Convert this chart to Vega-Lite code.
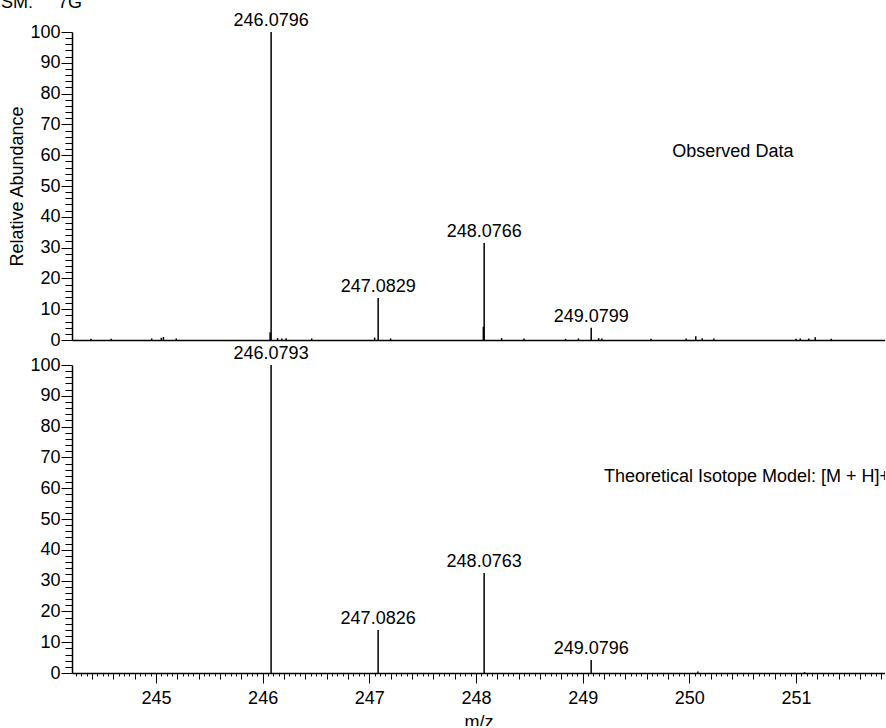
{
  "$schema": "https://vega.github.io/schema/vega-lite/v6.json",
  "padding": {"left": 0, "top": -6, "right": 0, "bottom": -5},
  "title": {"text": "SM:\u00a0\u00a0\u00a0\u00a0\u00a07G", "anchor": "start", "frame": "bounds", "fontSize": 18, "fontWeight": "normal", "font": "Liberation Sans", "color": "#000", "offset": 0, "dx": -8},
  "config": {
    "font": "Liberation Sans",
    "view": {"stroke": null},
    "axis": {"domainColor": "#000", "domainWidth": 1.5, "tickColor": "#000", "tickWidth": 1, "labelColor": "#000", "labelFontSize": 18, "labelFont": "Liberation Sans", "titleColor": "#000", "titleFont": "Liberation Sans", "titleFontSize": 18, "titleFontWeight": "normal", "grid": false, "labelOverlap": false, "labelFlush": false}
  },
  "datasets": {
    "peaks": [
      {"panel": "Observed", "mz": 246.0796, "abundance": 100, "label": "246.0796"},
      {"panel": "Observed", "mz": 246.070, "abundance": 2.5},
      {"panel": "Observed", "mz": 247.0829, "abundance": 13.6, "label": "247.0829"},
      {"panel": "Observed", "mz": 248.0766, "abundance": 31.5, "label": "248.0766"},
      {"panel": "Observed", "mz": 248.069, "abundance": 4.3},
      {"panel": "Observed", "mz": 249.0799, "abundance": 4.0, "label": "249.0799"},
      {"panel": "Observed", "mz": 244.39, "abundance": 0.4},
      {"panel": "Observed", "mz": 244.58, "abundance": 0.4},
      {"panel": "Observed", "mz": 244.96, "abundance": 0.5},
      {"panel": "Observed", "mz": 245.05, "abundance": 0.7},
      {"panel": "Observed", "mz": 245.07, "abundance": 1.0},
      {"panel": "Observed", "mz": 245.19, "abundance": 0.5},
      {"panel": "Observed", "mz": 246.14, "abundance": 0.6},
      {"panel": "Observed", "mz": 246.18, "abundance": 0.5},
      {"panel": "Observed", "mz": 246.22, "abundance": 0.6},
      {"panel": "Observed", "mz": 246.46, "abundance": 0.5},
      {"panel": "Observed", "mz": 247.05, "abundance": 0.8},
      {"panel": "Observed", "mz": 247.20, "abundance": 0.5},
      {"panel": "Observed", "mz": 248.24, "abundance": 0.6},
      {"panel": "Observed", "mz": 248.45, "abundance": 0.5},
      {"panel": "Observed", "mz": 248.84, "abundance": 0.4},
      {"panel": "Observed", "mz": 248.96, "abundance": 0.5},
      {"panel": "Observed", "mz": 249.15, "abundance": 0.6},
      {"panel": "Observed", "mz": 249.18, "abundance": 0.5},
      {"panel": "Observed", "mz": 249.64, "abundance": 0.4},
      {"panel": "Observed", "mz": 249.97, "abundance": 0.5},
      {"panel": "Observed", "mz": 250.06, "abundance": 1.2},
      {"panel": "Observed", "mz": 250.12, "abundance": 0.6},
      {"panel": "Observed", "mz": 250.23, "abundance": 0.5},
      {"panel": "Observed", "mz": 251.00, "abundance": 0.4},
      {"panel": "Observed", "mz": 251.04, "abundance": 0.5},
      {"panel": "Observed", "mz": 251.12, "abundance": 0.5},
      {"panel": "Observed", "mz": 251.18, "abundance": 0.9},
      {"panel": "Observed", "mz": 251.33, "abundance": 0.4},
      {"panel": "Theoretical", "mz": 246.0793, "abundance": 100, "label": "246.0793"},
      {"panel": "Theoretical", "mz": 247.0826, "abundance": 14.0, "label": "247.0826"},
      {"panel": "Theoretical", "mz": 248.0763, "abundance": 32.5, "label": "248.0763"},
      {"panel": "Theoretical", "mz": 249.0796, "abundance": 4.2, "label": "249.0796"},
      {"panel": "Theoretical", "mz": 250.08, "abundance": 0.5},
      {"panel": "Theoretical", "mz": 251.08, "abundance": 0.3}
    ],
    "notes": [
      {"panel": "Observed", "mz": 250.408, "abundance": 61, "note": "Observed Data"},
      {"panel": "Theoretical", "mz": 249.199, "abundance": 63.6, "note": "Theoretical Isotope Model: [M + H]+"}
    ]
  },
  "spacing": 25,
  "bounds": "flush",
  "vconcat": [
    {
      "width": 813,
      "height": 308,
      "layer": [
        {
          "data": {"name": "peaks"},
          "transform": [{"filter": "datum.panel === 'Observed'"}],
          "mark": {"type": "rule", "color": "#000", "strokeWidth": 1.5},
          "encoding": {
            "x": {"field": "mz", "type": "quantitative", "scale": {"domain": [244.213, 251.834], "nice": false, "zero": false}, "axis": {"title": null, "labels": false, "ticks": false, "domain": true}},
            "y": {"field": "abundance", "type": "quantitative", "scale": {"domain": [0, 100], "nice": false},
              "axis": {"title": "Relative Abundance", "titlePadding": 3, "labelPadding": 1, "tickCount": 1000,
                "values": [0,2,4,6,8,10,12,14,16,18,20,22,24,26,28,30,32,34,36,38,40,42,44,46,48,50,52,54,56,58,60,62,64,66,68,70,72,74,76,78,80,82,84,86,88,90,92,94,96,98,100],
                "tickSize": {"condition": {"test": "datum.value % 10 === 0", "value": 11}, "value": 7},
                "labelExpr": "datum.value % 10 === 0 ? format(datum.value, 'd') : ''"}},
            "y2": {"datum": 0}
          }
        },
        {
          "data": {"name": "peaks"},
          "transform": [{"filter": "datum.panel === 'Observed' && datum.label"}],
          "mark": {"type": "text", "baseline": "alphabetic", "align": "center", "dy": -6, "fontSize": 18, "color": "#000"},
          "encoding": {
            "x": {"field": "mz", "type": "quantitative"},
            "y": {"field": "abundance", "type": "quantitative"},
            "text": {"field": "label"}
          }
        },
        {
          "data": {"name": "notes"},
          "transform": [{"filter": "datum.panel === 'Observed'"}],
          "mark": {"type": "text", "baseline": "middle", "align": "center", "fontSize": 18, "color": "#000"},
          "encoding": {
            "x": {"field": "mz", "type": "quantitative"},
            "y": {"field": "abundance", "type": "quantitative"},
            "text": {"field": "note"}
          }
        }
      ]
    },
    {
      "width": 813,
      "height": 308,
      "layer": [
        {
          "data": {"name": "peaks"},
          "transform": [{"filter": "datum.panel === 'Theoretical'"}],
          "mark": {"type": "rule", "color": "#000", "strokeWidth": 1.5},
          "encoding": {
            "x": {"field": "mz", "type": "quantitative", "scale": {"domain": [244.213, 251.834], "nice": false, "zero": false},
              "axis": {"title": "m/z", "titlePadding": 6, "labelPadding": 6, "tickCount": 1000,
                "values": [244.25,244.3,244.35,244.4,244.45,244.5,244.55,244.6,244.65,244.7,244.75,244.8,244.85,244.9,244.95,
                  245,245.05,245.1,245.15,245.2,245.25,245.3,245.35,245.4,245.45,245.5,245.55,245.6,245.65,245.7,245.75,245.8,245.85,245.9,245.95,
                  246,246.05,246.1,246.15,246.2,246.25,246.3,246.35,246.4,246.45,246.5,246.55,246.6,246.65,246.7,246.75,246.8,246.85,246.9,246.95,
                  247,247.05,247.1,247.15,247.2,247.25,247.3,247.35,247.4,247.45,247.5,247.55,247.6,247.65,247.7,247.75,247.8,247.85,247.9,247.95,
                  248,248.05,248.1,248.15,248.2,248.25,248.3,248.35,248.4,248.45,248.5,248.55,248.6,248.65,248.7,248.75,248.8,248.85,248.9,248.95,
                  249,249.05,249.1,249.15,249.2,249.25,249.3,249.35,249.4,249.45,249.5,249.55,249.6,249.65,249.7,249.75,249.8,249.85,249.9,249.95,
                  250,250.05,250.1,250.15,250.2,250.25,250.3,250.35,250.4,250.45,250.5,250.55,250.6,250.65,250.7,250.75,250.8,250.85,250.9,250.95,
                  251,251.05,251.1,251.15,251.2,251.25,251.3,251.35,251.4,251.45,251.5,251.55,251.6,251.65,251.7,251.75,251.8],
                "tickSize": {"condition": [{"test": "abs(datum.value - round(datum.value)) < 1e-6", "value": 10}, {"test": "abs(datum.value * 5 - round(datum.value * 5)) < 1e-6", "value": 6}], "value": 3},
                "labelExpr": "abs(datum.value - round(datum.value)) < 1e-6 ? format(datum.value, 'd') : ''"}},
            "y": {"field": "abundance", "type": "quantitative", "scale": {"domain": [0, 100], "nice": false},
              "axis": {"title": null, "labelPadding": 1, "tickCount": 1000,
                "values": [0,2,4,6,8,10,12,14,16,18,20,22,24,26,28,30,32,34,36,38,40,42,44,46,48,50,52,54,56,58,60,62,64,66,68,70,72,74,76,78,80,82,84,86,88,90,92,94,96,98,100],
                "tickSize": {"condition": {"test": "datum.value % 10 === 0", "value": 11}, "value": 7},
                "labelExpr": "datum.value % 10 === 0 ? format(datum.value, 'd') : ''"}},
            "y2": {"datum": 0}
          }
        },
        {
          "data": {"name": "peaks"},
          "transform": [{"filter": "datum.panel === 'Theoretical' && datum.label"}],
          "mark": {"type": "text", "baseline": "alphabetic", "align": "center", "dy": -6, "fontSize": 18, "color": "#000"},
          "encoding": {
            "x": {"field": "mz", "type": "quantitative"},
            "y": {"field": "abundance", "type": "quantitative"},
            "text": {"field": "label"}
          }
        },
        {
          "data": {"name": "notes"},
          "transform": [{"filter": "datum.panel === 'Theoretical'"}],
          "mark": {"type": "text", "baseline": "middle", "align": "left", "fontSize": 18, "color": "#000", "clip": true},
          "encoding": {
            "x": {"field": "mz", "type": "quantitative"},
            "y": {"field": "abundance", "type": "quantitative"},
            "text": {"field": "note"}
          }
        }
      ]
    }
  ]
}
